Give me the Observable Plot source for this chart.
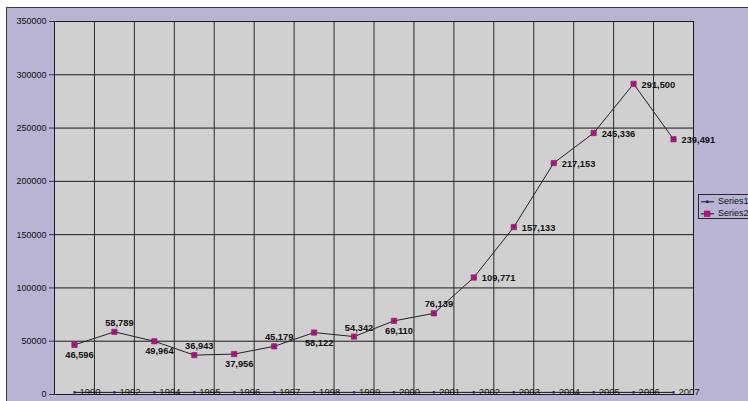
<!DOCTYPE html>
<html>
<head>
<meta charset="utf-8">
<script src="https://cdn.jsdelivr.net/npm/d3@7"></script>
<script src="https://cdn.jsdelivr.net/npm/@observablehq/plot@0.6"></script>
<style>
  html, body { margin: 0; padding: 0; background: #ffffff; }
  #wrap { position: relative; width: 748px; height: 401px; overflow: hidden; font-family: "Liberation Sans", Arial, sans-serif; }
  #bg { position: absolute; left: 6px; top: 7px; right: 0; bottom: 0; background: #b8b4d4; border-left: 1px solid #3a3a3a; border-top: 1px solid #3a3a3a; }
  #chart { position: absolute; left: 0; top: 0; }
  #legend { position: absolute; left: 698px; top: 194px; width: 70px; height: 25px; border: 1px solid #2a2a2a; box-sizing: border-box; font-size: 9px; color: #111; }
  .li { position: absolute; left: 1px; height: 11px; line-height: 11px; white-space: nowrap; }
  .li svg { position: absolute; left: 0; top: 0; }
  .li span { position: absolute; left: 18px; top: 0; }
</style>
</head>
<body>
<div id="wrap">
  <div id="bg"></div>
  <div id="chart"></div>
  <div id="legend"></div>
</div>
<script>
// ---- data ----
const years = [1990, 1992, 1994, 1995, 1996, 1997, 1998, 1999, 2000, 2001, 2002, 2003, 2004, 2005, 2006, 2007];
const series2 = [46596, 58789, 49964, 36943, 37956, 45179, 58122, 54342, 69110, 76139, 109771, 157133, 217153, 245336, 291500, 239491];
const yTicks = [0, 50000, 100000, 150000, 200000, 250000, 300000, 350000];
const seriesNames = ["Series1", "Series2"];

const s1Color = "#1f1f7a";
const s2Color = "#b0187f";

const rows = years.map((y, i) => ({i: i + 0.5, idx: i, year: y, v: series2[i]}));
const boundaries = years.slice(1).map((_, i) => i + 1);

const fmt = d3.format(",");
const below = rows.filter(d => d.idx < 10 && d.idx % 2 === 0);
const above = rows.filter(d => d.idx < 10 && d.idx % 2 === 1);
const right = rows.filter(d => d.idx >= 10);

const chart = Plot.plot({
  width: 748,
  height: 401,
  marginLeft: 54,
  marginRight: 55,
  marginTop: 21,
  marginBottom: 7,
  style: {fontFamily: "'Liberation Sans', Arial, sans-serif", fontSize: "9px", background: "transparent", overflow: "visible", color: "#111"},
  x: {domain: [0, years.length], axis: null},
  y: {domain: [0, 350000], axis: null},
  marks: [
    Plot.frame({fill: "#d0d0d0", stroke: "none"}),
    Plot.ruleY(yTicks, {stroke: "#1a1a1a", strokeWidth: 1}),
    Plot.ruleX(boundaries, {stroke: "#2a2a2a", strokeWidth: 1}),
    Plot.frame({stroke: "#1a1a1a", strokeWidth: 1}),
    Plot.axisY({ticks: yTicks, tickFormat: d3.format("d"), tickSize: 5, tickPadding: 3, fontSize: 9, fill: "#111", stroke: "#333"}),
    // Series1 (year values)
    Plot.line(rows, {x: "i", y: "year", stroke: "#111", strokeWidth: 1}),
    Plot.dot(rows, {x: "i", y: "year", symbol: "square", r: 1.3, fill: s1Color, stroke: "none"}),
    Plot.text(rows, {x: "i", y: "year", text: d => String(d.year), textAnchor: "start", dx: 5, dy: 0, fontSize: 9.5, fill: "#111"}),
    // Series2
    Plot.line(rows, {x: "i", y: "v", stroke: "#222", strokeWidth: 1}),
    Plot.dot(rows, {x: "i", y: "v", symbol: "square", r: 3, fill: s2Color, stroke: "#8a0f63", strokeWidth: 0.6}),
    Plot.dot(rows, {x: "i", y: "v", symbol: "square", r: 0.6, fill: "#3a0a2a", stroke: "none"}),
    Plot.text(below, {x: "i", y: "v", text: d => fmt(d.v), dx: 5, dy: 10, fontSize: 9.3, fontWeight: "bold", fill: "#111"}),
    Plot.text(above, {x: "i", y: "v", text: d => fmt(d.v), dx: 5, dy: -9, fontSize: 9.3, fontWeight: "bold", fill: "#111"}),
    Plot.text(right, {x: "i", y: "v", text: d => fmt(d.v), textAnchor: "start", dx: 8, dy: 1, fontSize: 9.3, fontWeight: "bold", fill: "#111"})
  ]
});
document.getElementById("chart").appendChild(chart);

// legend
const legend = document.getElementById("legend");
seriesNames.forEach((name, k) => {
  const item = document.createElement("div");
  item.className = "li";
  item.style.top = (k === 0 ? 1 : 13) + "px";
  const marker = k === 0
    ? `<rect x="6" y="4.5" width="2.5" height="2.5" fill="${s1Color}"/>`
    : `<rect x="4.5" y="3" width="5.5" height="5.5" fill="${s2Color}" stroke="#8a0f63" stroke-width="0.6"/>`;
  item.innerHTML = `<svg width="16" height="11"><line x1="1" x2="14" y1="5.8" y2="5.8" stroke="#111" stroke-width="1"/>${marker}</svg><span>${name}</span>`;
  legend.appendChild(item);
});
</script>
</body>
</html>
